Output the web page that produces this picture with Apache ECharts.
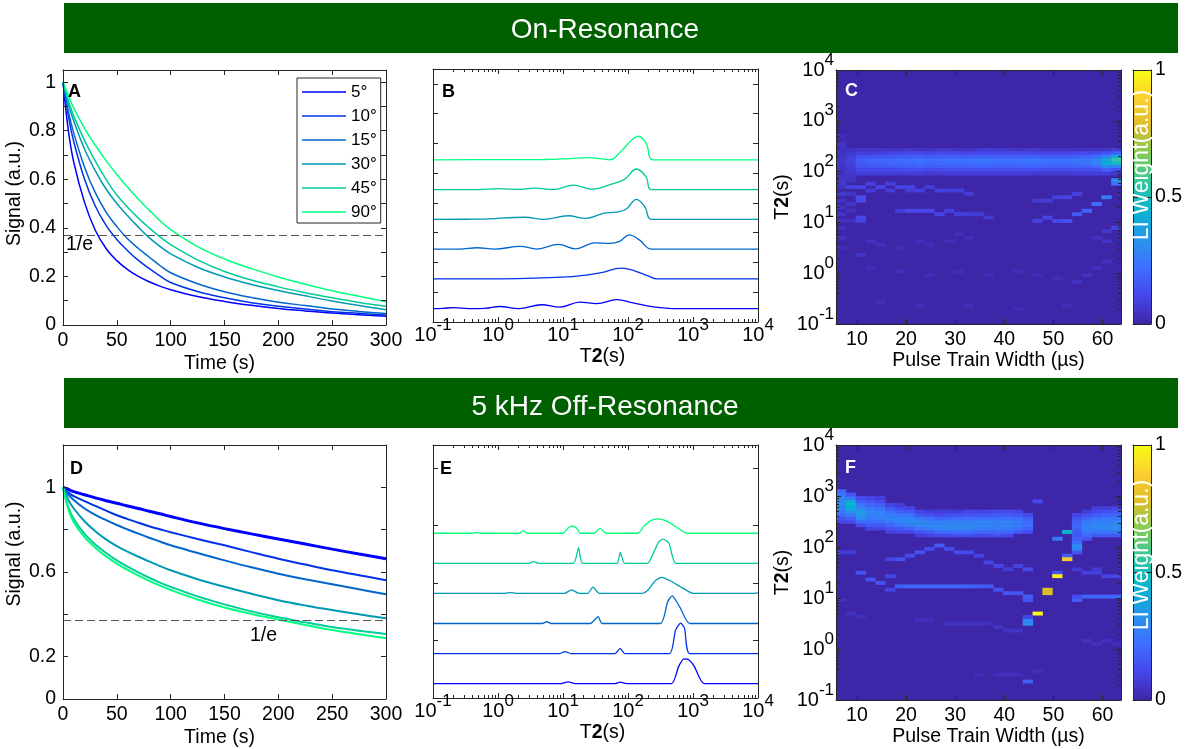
<!DOCTYPE html>
<html>
<head>
<meta charset="utf-8">
<script src="https://cdn.jsdelivr.net/npm/echarts@6/dist/echarts.min.js"></script>
<style>
  html, body { margin: 0; padding: 0; background: #fff; }
  #main { width: 1188px; height: 749px; }
</style>
</head>
<body>
<div id="main"></div>
<script>
// ---------------- data ----------------
const flipAngles = ['5°', '10°', '15°', '30°', '45°', '90°'];
const decayTimes = [0, 5, 10, 20, 30, 40, 50, 60, 70, 80, 90, 100, 125, 150, 175, 200, 225, 250, 275, 300];

// on-resonance signal decays (panel A)
const onRes5  = [1, 0.80, 0.67, 0.505, 0.39, 0.315, 0.265, 0.228, 0.20, 0.178, 0.16, 0.145, 0.117, 0.097, 0.081, 0.068, 0.058, 0.049, 0.042, 0.036];
const onRes10 = [1, 0.86, 0.755, 0.60, 0.49, 0.41, 0.352, 0.306, 0.266, 0.233, 0.202, 0.175, 0.138, 0.112, 0.092, 0.077, 0.066, 0.055, 0.048, 0.041];
const onRes15 = [1, 0.88, 0.79, 0.65, 0.545, 0.465, 0.405, 0.355, 0.315, 0.28, 0.245, 0.215, 0.17, 0.137, 0.113, 0.094, 0.08, 0.066, 0.056, 0.047];
const onRes30 = [1, 0.91, 0.84, 0.725, 0.635, 0.56, 0.50, 0.45, 0.403, 0.36, 0.324, 0.293, 0.238, 0.198, 0.167, 0.142, 0.12, 0.099, 0.08, 0.063];
const onRes45 = [1, 0.925, 0.86, 0.76, 0.675, 0.60, 0.535, 0.485, 0.44, 0.40, 0.363, 0.331, 0.268, 0.22, 0.185, 0.157, 0.133, 0.112, 0.093, 0.077];
const onRes90 = [1, 0.945, 0.893, 0.81, 0.74, 0.677, 0.62, 0.567, 0.518, 0.473, 0.43, 0.393, 0.323, 0.272, 0.232, 0.198, 0.168, 0.141, 0.118, 0.096];

// 5 kHz off-resonance signal decays (panel D)
const offRes5  = [1, 0.99, 0.98, 0.965, 0.95, 0.937, 0.925, 0.912, 0.90, 0.887, 0.875, 0.862, 0.832, 0.805, 0.78, 0.756, 0.732, 0.708, 0.685, 0.663];
const offRes10 = [1, 0.975, 0.958, 0.935, 0.912, 0.89, 0.868, 0.85, 0.833, 0.816, 0.802, 0.788, 0.756, 0.726, 0.694, 0.663, 0.635, 0.608, 0.585, 0.561];
const offRes15 = [1, 0.965, 0.94, 0.90, 0.87, 0.845, 0.822, 0.801, 0.781, 0.762, 0.744, 0.726, 0.69, 0.655, 0.622, 0.592, 0.566, 0.542, 0.518, 0.495];
const offRes30 = [1, 0.94, 0.90, 0.84, 0.793, 0.754, 0.722, 0.696, 0.672, 0.65, 0.628, 0.608, 0.566, 0.53, 0.497, 0.467, 0.442, 0.42, 0.40, 0.381];
const offRes45 = [1, 0.905, 0.85, 0.78, 0.73, 0.69, 0.655, 0.625, 0.598, 0.573, 0.55, 0.53, 0.485, 0.447, 0.414, 0.386, 0.362, 0.34, 0.322, 0.307];
const offRes90 = [1, 0.895, 0.835, 0.765, 0.715, 0.674, 0.64, 0.61, 0.583, 0.558, 0.536, 0.515, 0.47, 0.432, 0.402, 0.376, 0.35, 0.326, 0.306, 0.287];

// T2 distributions, [log10 T2 (s), amplitude] (panel B, on-resonance)
const onResT2_5  = [[-1,0],[-0.85,0.01],[-0.68,0.03],[-0.45,0],[-0.2,0.01],[0.03,0.07],[0.32,0],[0.67,0.13],[0.95,0.05],[1.26,0.22],[1.52,0.17],[1.83,0.3],[2.08,0.19],[2.39,0.06],[2.75,0],[4,0]];
const onResT2_10 = [[-1,0],[-0.3,0],[0.3,0.01],[0.8,0.04],[1.21,0.09],[1.57,0.2],[1.9,0.36],[2.1,0.27],[2.3,0.11],[2.45,0],[4,0]];
const onResT2_15 = [[-1,0],[-0.6,0],[-0.32,0.045],[-0.05,0],[0.34,0.09],[0.6,0],[0.93,0.16],[1.19,0.01],[1.49,0.21],[1.72,0.19],[1.87,0.26],[2.02,0.48],[2.18,0.3],[2.36,0],[4,0]];
const onResT2_30 = [[-1,0],[-0.3,0.005],[0.42,0.07],[0.7,0],[1.08,0.12],[1.35,0.03],[1.62,0.2],[1.82,0.24],[1.97,0.34],[2.13,0.67],[2.26,0.42],[2.36,0],[4,0]];
const onResT2_45 = [[-1,0],[-0.3,0],[0.01,0.03],[0.3,0.005],[0.57,0.045],[0.85,0],[1.16,0.15],[1.44,0.01],[1.77,0.2],[1.95,0.35],[2.13,0.69],[2.28,0.42],[2.36,0],[4,0]];
const onResT2_90 = [[-1,0],[0,0.005],[0.7,0.01],[1.1,0.04],[1.36,0.07],[1.6,0.03],[1.72,0],[1.9,0.3],[2.05,0.65],[2.16,0.79],[2.28,0.55],[2.39,0],[4,0]];

// T2 distributions, [log10 T2 (s), amplitude] (panel E, 5 kHz off-resonance)
const offResT2_5  = [[-1,0],[0.95,0],[1.08,0.03],[1.2,0],[1.8,0],[1.88,0.025],[1.98,0],[2.67,0],[2.78,0.3],[2.86,0.43],[2.93,0.42],[3.02,0.3],[3.17,0],[4,0]];
const offResT2_10 = [[-1,0],[0.95,0],[1.03,0.035],[1.12,0],[1.8,0],[1.88,0.09],[1.95,0],[2.64,0],[2.73,0.4],[2.81,0.53],[2.87,0.44],[2.95,0],[4,0]];
const offResT2_15 = [[-1,0],[0.68,0],[0.75,0.03],[0.82,0],[1.42,0],[1.54,0.12],[1.6,0],[2.5,0],[2.61,0.38],[2.68,0.48],[2.8,0.28],[2.95,0],[4,0]];
const offResT2_30 = [[-1,0],[0.1,0],[0.19,0.015],[0.28,0],[1.02,0],[1.13,0.06],[1.25,0],[1.38,0],[1.46,0.11],[1.56,0],[2.22,0],[2.3,0.05],[2.42,0.22],[2.52,0.28],[2.65,0.22],[2.8,0.12],[2.92,0.04],[3.0,0],[3.9,0],[4,0.01]];
const offResT2_45 = [[-1,0],[0.48,0],[0.55,0.03],[0.62,0],[1.16,0],[1.24,0.27],[1.3,0],[1.83,0],[1.88,0.19],[1.95,0],[2.3,0],[2.38,0.15],[2.47,0.37],[2.54,0.42],[2.63,0.35],[2.74,0],[4,0]];
const offResT2_90 = [[-1,0],[-0.4,0],[-0.33,0.01],[-0.26,0],[0.33,0],[0.39,0.04],[0.45,0],[1.0,0],[1.08,0.09],[1.14,0.13],[1.22,0.08],[1.26,0],[1.48,0],[1.57,0.09],[1.66,0],[2.15,0],[2.25,0.13],[2.35,0.22],[2.45,0.25],[2.58,0.22],[2.7,0.14],[2.82,0.05],[2.9,0],[4,0]];

// LI weight maps: column centres (µs); rows are 1/15-decade T2 bins starting at 0.1 s
const pulseWidths = [6.75, 8.75, 10.75, 12.75, 14.75, 16.75, 18.75, 20.75, 22.75, 24.75, 26.75, 28.75, 30.75, 32.75, 34.75,
                     36.75, 38.75, 40.75, 42.75, 44.75, 46.75, 48.75, 50.75, 52.75, 54.75, 56.75, 58.75, 60.75, 62.75];

// panel C: [row, weights for every pulse width]
const onResMapRows = [
  [51, [0.03,0.04,0.05,0.05,0.05,0.05,0.05,0.06,0.05,0.05,0.06,0.06,0.05,0.05,0.06,0.07,0.06,0.06,0.05,0.06,0.06,0.05,0.05,0.05,0.05,0.05,0.05,0.06,0.07]],
  [50, [0.05,0.06,0.08,0.08,0.09,0.10,0.10,0.11,0.11,0.10,0.11,0.11,0.11,0.10,0.11,0.12,0.11,0.11,0.11,0.11,0.10,0.10,0.10,0.10,0.11,0.11,0.12,0.14,0.18]],
  [49, [0.05,0.08,0.13,0.14,0.14,0.15,0.16,0.17,0.17,0.16,0.17,0.17,0.17,0.17,0.18,0.18,0.17,0.17,0.17,0.18,0.18,0.17,0.16,0.17,0.18,0.19,0.21,0.28,0.40]],
  [48, [0.06,0.09,0.17,0.19,0.20,0.20,0.21,0.22,0.23,0.22,0.22,0.23,0.23,0.23,0.24,0.24,0.23,0.23,0.23,0.24,0.24,0.23,0.23,0.23,0.24,0.25,0.28,0.40,0.56]],
  [47, [0.06,0.09,0.17,0.19,0.19,0.20,0.20,0.21,0.22,0.21,0.21,0.22,0.22,0.22,0.23,0.23,0.22,0.22,0.22,0.23,0.23,0.22,0.22,0.22,0.23,0.24,0.29,0.43,0.48]],
  [46, [0.05,0.08,0.14,0.15,0.15,0.16,0.17,0.17,0.18,0.17,0.17,0.18,0.18,0.18,0.19,0.19,0.18,0.18,0.18,0.19,0.19,0.18,0.18,0.18,0.19,0.19,0.22,0.30,0.28]],
  [45, [0.05,0.07,0.11,0.12,0.12,0.12,0.12,0.13,0.13,0.12,0.12,0.13,0.13,0.13,0.13,0.13,0.13,0.13,0.13,0.13,0.13,0.12,0.12,0.12,0.13,0.13,0.14,0.18,0.13]],
  [44, [0.04,0.06,0.08,0.08,0.08,0.08,0.08,0.08,0.08,0.07,0.07,0.08,0.08,0.08,0.08,0.08,0.08,0.08,0.08,0.08,0.07,0.07,0.07,0.07,0.08,0.08,0.08,0.08,0.06]]
];
// panel C: isolated cells [column, row, weight]
const onResMapCells = [
  [1,40,0.09],[2,40,0.10],[3,41,0.09],[4,40,0.10],[5,41,0.09],[6,40,0.10],[7,40,0.10],[8,39,0.09],[9,40,0.08],[10,39,0.09],[11,39,0.08],[12,39,0.08],[13,38,0.07],
  [2,37,0.13],[2,36,0.12],[3,39,0.07],[5,39,0.07],[7,39,0.07],
  [7,33,0.11],[8,33,0.11],[9,33,0.11],[10,32,0.10],[11,33,0.09],[12,32,0.09],[13,32,0.08],[14,32,0.08],[15,31,0.07],[6,33,0.08],
  [20,30,0.09],[21,31,0.10],[22,30,0.11],[23,30,0.14],[24,32,0.16],[25,33,0.19],[26,35,0.22],[27,37,0.26],[28,42,0.32],[28,41,0.22],
  [20,36,0.07],[21,36,0.08],[22,37,0.09],[23,37,0.10],[24,38,0.09],
  [0,55,0.03],[0,53,0.04],[0,52,0.05],[0,43,0.05],[0,42,0.06],[0,41,0.06],[0,40,0.05],[0,38,0.06],[0,36,0.05],[0,34,0.05],[0,32,0.05],[0,30,0.04],[0,28,0.04],[0,25,0.04],[0,22,0.03],
  [1,43,0.05],[1,42,0.05],[1,38,0.05],[1,35,0.05],[1,33,0.04],[1,30,0.04],[2,31,0.11],[2,30,0.09],
  [3,24,0.04],[4,23,0.04],[6,22,0.03],[8,24,0.03],[9,23,0.03],[11,24,0.03],[12,26,0.03],[13,25,0.03],[26,25,0.04],[27,24,0.05],[2,20,0.05],
  [3,16,0.03],[6,15,0.03],[9,14,0.03],[12,15,0.03],[15,14,0.03],[18,15,0.03],[20,14,0.03],[22,13,0.03],[24,12,0.04],[25,14,0.04],[26,16,0.04],[27,18,0.04],
  [4,6,0.03],[8,5,0.03],[13,5,0.03],[18,4,0.03],[23,5,0.03],[28,28,0.10],[27,27,0.06]
];

// panel F: [column, first row, weights upward]
const offResMapCols = [
  [0, 52, [0.10,0.15,0.20,0.25,0.28,0.30,0.30,0.28,0.25,0.20]],
  [1, 52, [0.12,0.18,0.25,0.32,0.42,0.45,0.42,0.25,0.15]],
  [2, 51, [0.12,0.20,0.30,0.35,0.35,0.30,0.25,0.18,0.12]],
  [3, 50, [0.10,0.16,0.22,0.26,0.28,0.28,0.25,0.20,0.15,0.10]],
  [4, 50, [0.10,0.16,0.22,0.27,0.28,0.27,0.24,0.18,0.12,0.08]],
  [5, 49, [0.08,0.14,0.20,0.26,0.28,0.27,0.22,0.16,0.10]],
  [6, 49, [0.10,0.16,0.24,0.28,0.28,0.25,0.18,0.12,0.08]],
  [7, 49, [0.10,0.18,0.26,0.30,0.28,0.24,0.16,0.10]],
  [8, 48, [0.08,0.14,0.24,0.30,0.30,0.25,0.16,0.10]],
  [9, 48, [0.10,0.16,0.26,0.30,0.28,0.22,0.14,0.08]],
  [10, 48, [0.12,0.20,0.28,0.30,0.27,0.20,0.12,0.08]],
  [11, 48, [0.12,0.22,0.28,0.30,0.27,0.20,0.14,0.08]],
  [12, 48, [0.14,0.22,0.28,0.30,0.28,0.22,0.14,0.08]],
  [13, 48, [0.14,0.22,0.28,0.30,0.28,0.22,0.15,0.10]],
  [14, 48, [0.12,0.20,0.27,0.29,0.28,0.22,0.16,0.10]],
  [15, 48, [0.12,0.20,0.26,0.28,0.27,0.22,0.16,0.10]],
  [16, 48, [0.14,0.20,0.26,0.28,0.27,0.22,0.17,0.12]],
  [17, 48, [0.12,0.20,0.25,0.28,0.27,0.23,0.17,0.12]],
  [18, 49, [0.16,0.22,0.26,0.26,0.22,0.16,0.10]],
  [19, 49, [0.12,0.18,0.22,0.22,0.18,0.12]],
  [24, 43, [0.15,0.28,0.30,0.22,0.18,0.16,0.16,0.18,0.20,0.18,0.15,0.10]],
  [25, 47, [0.15,0.20,0.24,0.28,0.28,0.26,0.20,0.14,0.08]],
  [26, 48, [0.16,0.24,0.28,0.30,0.28,0.24,0.18,0.12,0.08]],
  [27, 48, [0.16,0.24,0.30,0.30,0.28,0.25,0.20,0.14,0.08]],
  [28, 48, [0.16,0.24,0.30,0.30,0.28,0.25,0.20,0.15,0.10]]
];
// panel F: isolated cells [column, row, weight]
const offResMapCells = [
  [22,47,0.25],[23,49,0.45],[23,42,0.18],[23,41,0.86],[22,37,0.15],[22,36,0.97],[21,32,0.78],[21,31,0.78],[20,25,1.0],
  [19,23,0.30],[19,22,0.30],[19,24,0.10],[19,5,0.18],[19,30,0.18],[19,29,0.15],[20,58,0.12],
  [0,43,0.08],[1,43,0.08],[5,41,0.10],[6,41,0.14],[7,42,0.12],[8,43,0.14],[9,44,0.12],[10,45,0.16],[11,44,0.12],[12,43,0.12],
  [13,43,0.12],[14,42,0.10],[15,40,0.10],[16,39,0.10],[17,38,0.08],[18,39,0.10],[19,38,0.12],
  [2,37,0.14],[3,35,0.14],[4,34,0.14],[5,32,0.10],[5,36,0.10],[6,33,0.18],[7,33,0.20],[8,33,0.20],[9,33,0.20],[10,33,0.20],
  [11,33,0.20],[12,33,0.20],[13,33,0.19],[14,33,0.17],[15,33,0.16],[16,32,0.15],[17,31,0.15],[18,31,0.15],
  [24,29,0.18],[24,30,0.12],[25,30,0.20],[26,30,0.20],[27,30,0.20],[28,30,0.20],
  [24,38,0.07],[25,37,0.09],[26,37,0.09],[27,36,0.10],[28,36,0.10],[26,38,0.07],
  [8,23,0.04],[9,23,0.03],[11,22,0.04],[12,22,0.04],[13,22,0.04],[14,22,0.04],[15,22,0.03],[16,21,0.05],[17,20,0.05],[18,20,0.05],
  [1,25,0.04],[2,24,0.03],[0,29,0.04],[20,8,0.03],[25,17,0.04],[26,16,0.04],[27,17,0.04],[28,16,0.03],[14,7,0.03],[16,7,0.03],[17,7,0.04],[18,7,0.03]
];

// ---------------- styling ----------------
const FONT = "'Liberation Sans', Arial, Helvetica, sans-serif";
const FS = 19.5;
const INK = '#262626';
const INV_E = 0.3679;
const winter = ['#0000ff', '#0033e6', '#0066cc', '#0099b3', '#00cc99', '#00ff80'];
const parula = ['#3e26a8', '#4747eb', '#3e6fff', '#2796eb', '#08b4d0', '#31c69f', '#80cc59', '#dcbd29', '#fccf30', '#f9fb15'];
const ROW = 1 / 15;      // T2 bin height in decades
const PW_STEP = 2;       // pulse-width bin in µs

const onResDecay = [onRes5, onRes10, onRes15, onRes30, onRes45, onRes90];
const offResDecay = [offRes5, offRes10, offRes15, offRes30, offRes45, offRes90];
const onResDist = [onResT2_5, onResT2_10, onResT2_15, onResT2_30, onResT2_45, onResT2_90];
const offResDist = [offResT2_5, offResT2_10, offResT2_15, offResT2_30, offResT2_45, offResT2_90];

const nameRich = { t: { fontSize: FS, fontWeight: 'bold', fontFamily: FONT, color: '#000' } };
const powRich = {
  b: { fontSize: 20, fontFamily: FONT, color: '#000' },
  s: { fontSize: 17, fontFamily: FONT, color: '#000', padding: [0, 0, 20, 0] }
};
const powLabel = v => '{b|10}{s|' + Math.round(v) + '}';

function axis(grid, o, position, main) {
  const ax = {
    gridIndex: grid, type: o.type || 'value', position: position, z: 10,
    axisLine: { show: true, onZero: false, lineStyle: { color: INK, width: 1 } },
    axisTick: { show: o.ticks !== false, inside: true, length: 5, lineStyle: { color: INK, width: 1 } },
    splitLine: { show: false },
    axisLabel: { show: false }
  };
  if (ax.type === 'category') { ax.data = o.data; ax.boundaryGap = true; }
  else {
    ax.min = o.min; ax.max = o.max;
    if (o.interval) ax.interval = o.interval;
    if (o.splitNumber) ax.splitNumber = o.splitNumber;
  }
  if (main && o.label) {
    ax.axisLabel = Object.assign({ show: true, color: '#000', fontSize: FS, fontFamily: FONT }, o.label);
  }
  if (main && o.name) {
    ax.name = o.name; ax.nameLocation = 'middle'; ax.nameGap = o.nameGap;
    ax.nameTextStyle = { color: '#000', fontSize: FS, fontFamily: FONT, rich: nameRich, padding: o.namePad || 0 };
  }
  return ax;
}
const xPair = (g, o) => [axis(g, o, 'bottom', true), axis(g, o, 'top', false)];
const yPair = (g, o) => [axis(g, o, 'left', o.labelSide !== 'right'), axis(g, o, 'right', o.labelSide === 'right')];

const grids = [
  { left: 63,   top: 70,  width: 323, height: 255 },  // A
  { left: 433,  top: 69,  width: 325, height: 253 },  // B
  { left: 836,  top: 70,  width: 285, height: 254 },  // C
  { left: 1133, top: 70,  width: 18,  height: 254 },  // C colour bar
  { left: 63,   top: 445, width: 323, height: 254 },  // D
  { left: 433,  top: 445, width: 325, height: 253 },  // E
  { left: 836,  top: 445, width: 285, height: 255 },  // F
  { left: 1133, top: 445, width: 18,  height: 255 }   // F colour bar
];
grids.forEach(g => { g.containLabel = false; });
grids[2].show = true; grids[2].backgroundColor = parula[0]; grids[2].borderWidth = 0;
grids[6].show = true; grids[6].backgroundColor = parula[0]; grids[6].borderWidth = 0;

const fmtA = v => { const r = Math.round(v * 10); return (r % 2 === 0 && r <= 10) ? String(r / 10) : ''; };
const fmtD = v => { const r = Math.round(v * 10); return [0, 2, 6, 10].indexOf(r) >= 0 ? String(r / 10) : ''; };
const fmtPW = v => (Math.abs(v % 10) < 1e-6 ? String(v) : '');

const timeX = { min: 0, max: 300, interval: 50, label: { margin: 6 }, name: 'Time (s)', nameGap: 29, namePad: [0, 10, 0, 0] };
const t2X = { min: -1, max: 4, interval: 1, label: { margin: -5, formatter: powLabel, rich: powRich }, name: 'T{t|2}(s)', nameGap: 25, namePad: [0, 0, 0, 14] };
const pwX = { min: 5.75, max: 63.75, splitNumber: 6, label: { margin: 6, formatter: fmtPW, showMinLabel: false, showMaxLabel: false }, name: 'Pulse Train Width (µs)', nameGap: 27, namePad: [0, 0, 0, 20] };
const t2Y = { min: -1, max: 4, interval: 1, label: { margin: 2, formatter: powLabel, rich: powRich }, name: 'T{t|2}(s)', nameGap: 39 };
const cbX = { type: 'category', data: ['w'], ticks: false };
const cbY = { min: 0, max: 1, interval: 0.5, labelSide: 'right', label: { margin: 4 } };

const xAxes = [].concat(
  xPair(0, timeX), xPair(1, t2X), xPair(2, pwX), xPair(3, cbX),
  xPair(4, timeX), xPair(5, t2X), xPair(6, pwX), xPair(7, cbX)
);
const yAxes = [].concat(
  yPair(0, { min: 0, max: 1.05, interval: 0.1, label: { margin: 7, formatter: fmtA }, name: 'Signal (a.u.)', nameGap: 33, namePad: [0, 0, 0, 8] }),
  yPair(1, { min: 0, max: 8.5, interval: 1 }),
  yPair(2, t2Y),
  yPair(3, cbY),
  yPair(4, { min: 0, max: 1.2, interval: 0.2, label: { margin: 7, formatter: fmtD }, name: 'Signal (a.u.)', nameGap: 33, namePad: [0, 0, 0, 36] }),
  yPair(5, { min: 0, max: 4.4, interval: 1 }),
  yPair(6, t2Y),
  yPair(7, cbY)
);

// ---------------- series ----------------
const series = [];
const dashed = (y) => ({
  silent: true, symbol: 'none', label: { show: false },
  lineStyle: { type: [8, 4], color: '#555', width: 1 },
  data: [{ yAxis: y }]
});

// A: on-resonance decays
flipAngles.forEach((name, i) => {
  series.push({
    type: 'line', name: name, xAxisIndex: 0, yAxisIndex: 0, symbol: 'none', smooth: 0.4,
    data: decayTimes.map((t, n) => [t, onResDecay[i][n]]),
    lineStyle: { width: 1.5, color: winter[i] }, itemStyle: { color: winter[i] }, z: 3,
    markLine: i === 0 ? dashed(INV_E) : undefined
  });
});
// D: off-resonance decays
flipAngles.forEach((name, i) => {
  series.push({
    type: 'line', name: 'off ' + name, xAxisIndex: 8, yAxisIndex: 8, symbol: 'none', smooth: 0.4,
    data: decayTimes.map((t, n) => [t, offResDecay[i][n]]),
    lineStyle: { width: i === 0 ? 3 : 2, color: winter[i] }, itemStyle: { color: winter[i] }, z: 3,
    markLine: i === 0 ? dashed(INV_E) : undefined
  });
});
// B and E: stacked T2 distributions
flipAngles.forEach((name, i) => {
  const base = 0.45 + i;
  series.push({
    type: 'line', name: 'T2 on ' + name, xAxisIndex: 2, yAxisIndex: 2, symbol: 'none', smooth: 0.4,
    data: onResDist[i].map(([x, a]) => [x, a + base]),
    lineStyle: { width: 1.3, color: winter[i] }, itemStyle: { color: winter[i] }, z: 3
  });
});
flipAngles.forEach((name, i) => {
  const base = 0.25 + 0.523 * i;
  series.push({
    type: 'line', name: 'T2 off ' + name, xAxisIndex: 10, yAxisIndex: 10, symbol: 'none', smooth: 0.2,
    data: offResDist[i].map(([x, a]) => [x, a + base]),
    lineStyle: { width: 1.3, color: winter[i] }, itemStyle: { color: winter[i] }, z: 3
  });
});

// C and F: LI weight maps drawn cell by cell
const rowLog = j => -1 + (j + 0.5) * ROW;
const onResCells = [];
onResMapRows.forEach(([j, ws]) => ws.forEach((w, k) => onResCells.push([pulseWidths[k], rowLog(j), w])));
onResMapCells.forEach(([k, j, w]) => onResCells.push([pulseWidths[k], rowLog(j), w]));
const offResCells = [];
offResMapCols.forEach(([k, j0, ws]) => ws.forEach((w, n) => offResCells.push([pulseWidths[k], rowLog(j0 + n), w])));
offResMapCells.forEach(([k, j, w]) => offResCells.push([pulseWidths[k], rowLog(j), w]));

function cellSeries(ai, data) {
  return {
    type: 'custom', xAxisIndex: ai, yAxisIndex: ai, data: data, encode: { x: 0, y: 1 }, z: 2,
    renderItem(params, api) {
      const x = api.value(0), y = api.value(1);
      const p0 = api.coord([x - PW_STEP / 2, y + ROW / 2]);
      const p1 = api.coord([x + PW_STEP / 2, y - ROW / 2]);
      return {
        type: 'rect',
        shape: { x: p0[0], y: p0[1], width: p1[0] - p0[0] + 0.5, height: p1[1] - p0[1] + 0.5 },
        style: { fill: api.visual('color') }
      };
    }
  };
}
const cIdx = series.length;
series.push(cellSeries(4, onResCells));
const fIdx = series.length;
series.push(cellSeries(12, offResCells));

// colour bars
const barGradient = new echarts.graphic.LinearGradient(0, 1, 0, 0,
  parula.map((c, i) => ({ offset: i / (parula.length - 1), color: c })));
[6, 14].forEach(ai => series.push({
  type: 'bar', xAxisIndex: ai, yAxisIndex: ai, data: [1], barWidth: '100%', silent: true,
  itemStyle: { color: barGradient }, z: 2
}));

// logarithmic minor ticks
const minorLogs = [];
for (let d = -1; d < 4; d++) for (let m = 2; m <= 9; m++) minorLogs.push(d + Math.log10(m));
function minorTicks(ai, dir, lo, hi) {
  return {
    type: 'custom', xAxisIndex: ai, yAxisIndex: ai, silent: true, z: 12, clip: false,
    data: minorLogs.map(v => [v, v]),
    renderItem(params, api) {
      const v = api.value(0);
      const st = { stroke: INK, lineWidth: 1 };
      if (dir === 'x') {
        const a = api.coord([v, lo]), b = api.coord([v, hi]);
        const x = Math.round(a[0]) + 0.5;
        return { type: 'group', children: [
          { type: 'line', shape: { x1: x, y1: a[1], x2: x, y2: a[1] - 3 }, style: st },
          { type: 'line', shape: { x1: x, y1: b[1], x2: x, y2: b[1] + 3 }, style: st }
        ] };
      }
      const a = api.coord([lo, v]), b = api.coord([hi, v]);
      const y = Math.round(a[1]) + 0.5;
      return { type: 'group', children: [
        { type: 'line', shape: { x1: a[0], y1: y, x2: a[0] + 3, y2: y }, style: st },
        { type: 'line', shape: { x1: b[0], y1: y, x2: b[0] - 3, y2: y }, style: st }
      ] };
    }
  };
}
series.push(minorTicks(2, 'x', 0, 8.5));
series.push(minorTicks(10, 'x', 0, 4.4));
series.push(minorTicks(4, 'y', 5.75, 63.75));
series.push(minorTicks(12, 'y', 5.75, 63.75));

// ---------------- annotations ----------------
const txt = (x, y, text, opts) => ({
  type: 'text', x: x, y: y, z: 20, silent: true,
  style: Object.assign({ text: text, fill: '#000', fontSize: FS, fontFamily: FONT, align: 'left', verticalAlign: 'middle' }, opts || {})
});
const graphic = [
  { type: 'rect', shape: { x: 64, y: 3, width: 1114, height: 50 }, style: { fill: '#006000' }, z: 1 },
  txt(605, 30, 'On-Resonance', { fill: '#fff', fontSize: 28, align: 'center' }),
  { type: 'rect', shape: { x: 64, y: 378, width: 1114, height: 50 }, style: { fill: '#006000' }, z: 1 },
  txt(605, 407, '5 kHz Off-Resonance', { fill: '#fff', fontSize: 28, align: 'center' }),
  txt(68, 92, 'A', { fontWeight: 'bold', fontSize: 18 }),
  txt(442, 92, 'B', { fontWeight: 'bold', fontSize: 18 }),
  txt(845, 91, 'C', { fontWeight: 'bold', fontSize: 18, fill: '#fff' }),
  txt(70, 469, 'D', { fontWeight: 'bold', fontSize: 18 }),
  txt(440, 469, 'E', { fontWeight: 'bold', fontSize: 18 }),
  txt(845, 468, 'F', { fontWeight: 'bold', fontSize: 18, fill: '#fff' }),
  txt(66, 245, '1/e'),
  txt(250, 636, '1/e'),
  Object.assign(txt(1142, 165, 'LI Weight(a.u.)', { fill: '#fff', align: 'center', fontSize: 23 }), { rotation: Math.PI / 2 }),
  Object.assign(txt(1142, 555, 'LI Weight(a.u.)', { fill: '#fff', align: 'center', fontSize: 23 }), { rotation: Math.PI / 2 })
];

const chart = echarts.init(document.getElementById('main'), null, { renderer: 'canvas' });
chart.setOption({
  animation: false,
  backgroundColor: '#fff',
  textStyle: { fontFamily: FONT },
  grid: grids,
  xAxis: xAxes,
  yAxis: yAxes,
  legend: {
    data: flipAngles, left: 297, top: 78, orient: 'vertical',
    icon: 'rect', itemWidth: 44, itemHeight: 1.5, itemGap: 4,
    padding: [4, 4, 1, 5], borderColor: INK, borderWidth: 1, backgroundColor: '#fff',
    textStyle: { fontSize: 17, lineHeight: 20, color: '#000', fontFamily: FONT }, selectedMode: false
  },
  visualMap: {
    show: false, type: 'continuous', min: 0, max: 1, dimension: 2,
    seriesIndex: [cIdx, fIdx], inRange: { color: parula }
  },
  series: series,
  graphic: graphic
});
</script>
</body>
</html>
